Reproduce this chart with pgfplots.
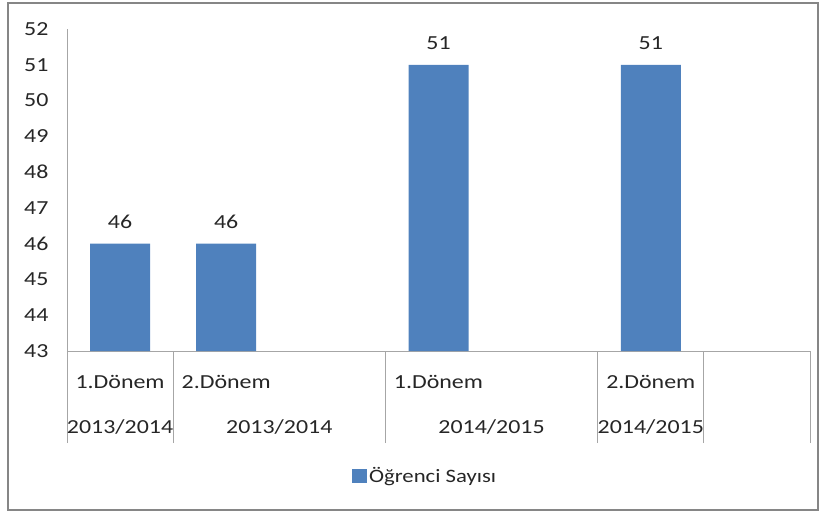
\documentclass[border=0pt]{standalone}
\usepackage{pgfplots}
\pgfplotsset{compat=1.18}
\usepackage{fontspec}
\setmainfont[FakeStretch=1.2]{Carlito}
\definecolor{barblue}{HTML}{4F81BD}
\definecolor{axgray}{HTML}{A6A6A6}
\definecolor{framegray}{HTML}{868686}
\definecolor{txt}{HTML}{262626}
\begin{document}
\begin{tikzpicture}[font=\fontsize{20}{24}\selectfont, text=txt]
\useasboundingbox (-67bp,-160bp) rectangle (759bp,351bp);
\draw[framegray, line width=1.6bp] (-59bp,-159bp) rectangle (751bp,348bp);
\begin{axis}[
  at={(0,0)}, anchor=south west,
  scale only axis, width=743bp, height=322bp,
  xmin=-0.5, xmax=6.5, ymin=43, ymax=52,
  axis x line*=bottom, axis y line*=left,
  axis line style={axgray, line width=0.8bp},
  ytick={43,...,52},
  y tick style={draw=none},
  yticklabel style={xshift=77bp, text=txt},
  xtick={-0.5,0.5,2.5,4.5,5.5,6.5},
  xticklabels={},
  x tick style={axgray, line width=0.8bp},
  tick align=outside,
  major tick length=92bp,
  /pgf/number format/assume math mode=true,
  ybar, bar width=60bp,
  nodes near coords,
  every node near coord/.append style={text=txt, yshift=12bp},
  clip=false,
  legend style={draw=none, at={(0.482,-0.388)}, anchor=center, fill=none,
    font=\fontsize{19}{22}\selectfont, text=txt},
  legend image code/.code={\fill[barblue] (0bp,-7bp) rectangle (15bp,7bp);},
]
\addplot[fill=barblue, draw=none] coordinates {(0,46) (1,46) (3,51) (5,51)};
\addlegendentry{Öğrenci Sayısı}
\node at (axis cs:0,43) [yshift=-31bp] {1.Dönem};
\node at (axis cs:1,43) [yshift=-31bp] {2.Dönem};
\node at (axis cs:3,43) [yshift=-31bp] {1.Dönem};
\node at (axis cs:5,43) [yshift=-31bp] {2.Dönem};
\node at (axis cs:0,43) [yshift=-76bp] {2013/2014};
\node at (axis cs:1.5,43) [yshift=-76bp] {2013/2014};
\node at (axis cs:3.5,43) [yshift=-76bp] {2014/2015};
\node at (axis cs:5,43) [yshift=-76bp] {2014/2015};
\end{axis}
\end{tikzpicture}
\end{document}
